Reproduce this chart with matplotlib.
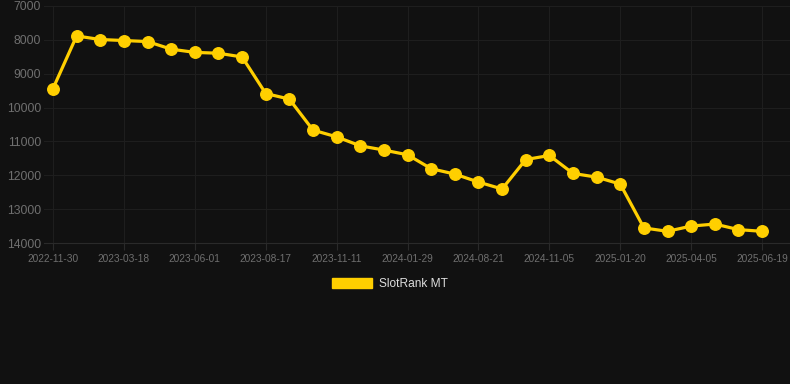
import matplotlib
matplotlib.use("Agg")
import matplotlib.pyplot as plt
from matplotlib.patches import Patch

# snapshot dates (category axis, every third one is labelled)
dates = [
    "2022-11-30", "2023-01-05", "2023-02-10", "2023-03-18", "2023-04-12",
    "2023-05-07", "2023-06-01", "2023-06-27", "2023-07-22", "2023-08-17",
    "2023-09-15", "2023-10-13", "2023-11-11", "2023-12-07", "2024-01-03",
    "2024-01-29", "2024-04-10", "2024-06-15", "2024-08-21", "2024-09-16",
    "2024-10-11", "2024-11-05", "2024-11-30", "2024-12-26", "2025-01-20",
    "2025-02-14", "2025-03-11", "2025-04-05", "2025-04-30", "2025-05-25",
    "2025-06-19",
]

# rank values
rank = [
    9440, 7885, 7990, 8020, 8050,
    8275, 8370, 8395, 8505, 9585,
    9750, 10665, 10865, 11130, 11255,
    11395, 11805, 11965, 12200, 12405,
    11535, 11415, 11945, 12055, 12260,
    13555, 13655, 13500, 13440, 13605,
    13655,
]

series_name = "SlotRank MT"
y_ticks = [7000, 8000, 9000, 10000, 11000, 12000, 13000, 14000]

BG = "#111111"
GRID = "#1e1e1e"
LINE = "#FFCF00"
TICK_TEXT = "#6f6f6f"


def main():
    plt.rcParams["font.family"] = ["Liberation Sans", "DejaVu Sans"]

    fig = plt.figure(figsize=(7.9, 3.84), dpi=100, facecolor=BG)
    ax = fig.add_axes([44 / 790, 141 / 384, 1 - 44 / 790, 237 / 384])
    ax.set_facecolor(BG)

    x = list(range(len(dates)))
    ax.plot(x, rank, color=LINE, linewidth=2.3, marker="o",
            markersize=8.3, markerfacecolor=LINE, markeredgecolor=LINE,
            zorder=3, clip_on=False)

    ax.set_ylim(14000, 7000)
    ax.set_yticks(y_ticks)
    ax.set_yticklabels([str(v) for v in y_ticks])
    ax.set_xlim(-0.38, len(dates) - 1 + 1.18)
    label_idx = x[::3]
    ax.set_xticks(label_idx)
    ax.set_xticklabels([dates[i] for i in label_idx])

    ax.grid(True, color=GRID, linewidth=0.8)
    ax.set_axisbelow(True)
    for side in ["top", "right", "left"]:
        ax.spines[side].set_visible(False)
    ax.spines["bottom"].set_color("#2a2a2a")
    ax.spines["bottom"].set_linewidth(0.8)

    ax.tick_params(axis="y", length=0, pad=2, labelsize=8.7, labelcolor=TICK_TEXT)
    ax.tick_params(axis="x", length=5, width=0.8, color="#2a2a2a", pad=3,
                   labelsize=7.3, labelcolor=TICK_TEXT)

    handle = Patch(facecolor=LINE, edgecolor=LINE, label=series_name)
    leg = fig.legend(handles=[handle], loc="center",
                     bbox_to_anchor=(390 / 790, 1 - 284 / 384),
                     frameon=False, fontsize=8.6, handlelength=3.4,
                     handleheight=1.0, handletextpad=0.6)
    for t in leg.get_texts():
        t.set_color("#dddddd")

    fig.savefig("out.png", dpi=100, facecolor=BG)
    plt.close(fig)


if __name__ == "__main__":
    main()
